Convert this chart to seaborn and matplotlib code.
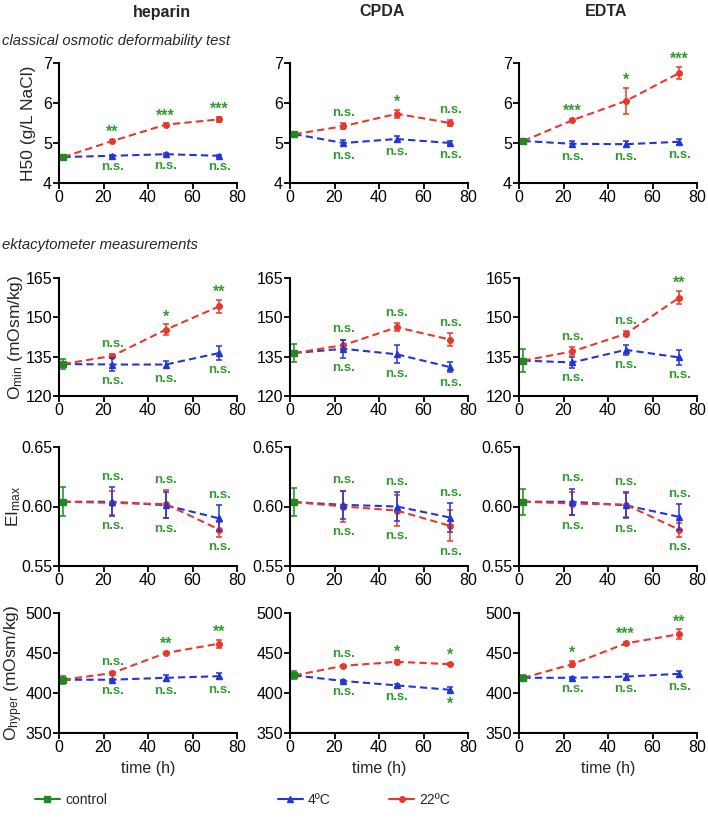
import numpy as np
import pandas as pd
import matplotlib
matplotlib.use('Agg')
import matplotlib.pyplot as plt
from matplotlib.lines import Line2D
import seaborn as sns

# tempos de medida
t_ctrl = 2
times = [24, 48, 72]
anticoagulants = ['heparin', 'CPDA', 'EDTA']

# H50 (g/L NaCl) - heparin, CPDA, EDTA
h50_ctrl = [4.65, 5.22, 5.05]
h50_ctrl_err = [0.03, 0.04, 0.03]
h50_cold = [[4.68, 4.72, 4.68], [5.00, 5.10, 5.00], [4.98, 4.97, 5.03]]
h50_cold_err = [[0.03, 0.03, 0.03], [0.08, 0.07, 0.05], [0.07, 0.07, 0.07]]
h50_warm = [[5.05, 5.46, 5.59], [5.42, 5.73, 5.50], [5.57, 6.05, 6.75]]
h50_warm_err = [[0.03, 0.03, 0.07], [0.08, 0.10, 0.08], [0.03, 0.33, 0.16]]
h50_cold_sig = [['n.s.', 'n.s.', 'n.s.'], ['n.s.', 'n.s.', 'n.s.'], ['n.s.', 'n.s.', 'n.s.']]
h50_warm_sig = [['**', '***', '***'], ['n.s.', '*', 'n.s.'], ['***', '*', '***']]

# Omin (mOsm/kg)
omin_ctrl = [132.2, 136.4, 133.5]
omin_ctrl_err = [2.0, 3.5, 4.5]
omin_cold = [[132.0, 132.0, 136.4], [138.0, 135.9, 131.0], [132.8, 137.6, 134.7]]
omin_cold_err = [[2.5, 1.5, 2.5], [3.5, 3.5, 2.0], [2.0, 2.0, 3.0]]
omin_warm = [[135.3, 145.3, 154.2], [139.4, 146.2, 141.5], [137.0, 143.7, 157.5]]
omin_warm_err = [[0.8, 2.0, 2.5], [2.0, 1.5, 2.5], [1.5, 1.0, 2.5]]
omin_cold_sig = [['n.s.', 'n.s.', 'n.s.'], ['n.s.', 'n.s.', 'n.s.'], ['n.s.', 'n.s.', 'n.s.']]
omin_warm_sig = [['n.s.', '*', '**'], ['n.s.', 'n.s.', 'n.s.'], ['n.s.', 'n.s.', '**']]

# EImax
eimax_ctrl = [0.604, 0.6037, 0.604]
eimax_ctrl_err = [0.012, 0.012, 0.011]
eimax_cold = [[0.604, 0.601, 0.590], [0.6014, 0.600, 0.5907], [0.604, 0.601, 0.5913]]
eimax_cold_err = [[0.012, 0.011, 0.011], [0.012, 0.012, 0.0125], [0.011, 0.011, 0.011]]
eimax_warm = [[0.603, 0.602, 0.5806], [0.600, 0.5966, 0.5837], [0.6025, 0.6015, 0.5805]]
eimax_warm_err = [[0.010, 0.012, 0.006], [0.013, 0.013, 0.013], [0.010, 0.010, 0.006]]
eimax_cold_sig = [['n.s.', 'n.s.', 'n.s.'], ['n.s.', 'n.s.', 'n.s.'], ['n.s.', 'n.s.', 'n.s.']]
eimax_warm_sig = [['n.s.', 'n.s.', 'n.s.'], ['n.s.', 'n.s.', 'n.s.'], ['n.s.', 'n.s.', 'n.s.']]

# Ohyper (mOsm/kg)
ohyp_ctrl = [416.6, 422.0, 419.0]
ohyp_ctrl_err = [5.0, 5.0, 4.0]
ohyp_cold = [[416.6, 419.0, 421.0], [415.0, 409.5, 404.0], [419.0, 420.5, 424.0]]
ohyp_cold_err = [[1.5, 4.0, 4.0], [1.5, 1.5, 3.0], [1.5, 3.0, 4.0]]
ohyp_warm = [[425.0, 450.0, 461.7], [434.0, 439.0, 436.0], [436.0, 462.0, 473.5]]
ohyp_warm_err = [[1.5, 1.5, 5.0], [1.5, 2.0, 1.5], [4.0, 2.0, 6.0]]
ohyp_cold_sig = [['n.s.', 'n.s.', 'n.s.'], ['n.s.', 'n.s.', '*'], ['n.s.', 'n.s.', 'n.s.']]
ohyp_warm_sig = [['n.s.', '**', '**'], ['n.s.', '*', '*'], ['*', '***', '**']]

# Configuração de cada linha de gráficos
linhas = [
    dict(ctrl=h50_ctrl, ctrl_err=h50_ctrl_err, cold=h50_cold, cold_err=h50_cold_err,
         warm=h50_warm, warm_err=h50_warm_err, cold_sig=h50_cold_sig, warm_sig=h50_warm_sig,
         ylabel='H50 (g/L NaCl)', yticks=[4, 5, 6, 7], fmt='%d', lx=-0.13),
    dict(ctrl=omin_ctrl, ctrl_err=omin_ctrl_err, cold=omin_cold, cold_err=omin_cold_err,
         warm=omin_warm, warm_err=omin_warm_err, cold_sig=omin_cold_sig, warm_sig=omin_warm_sig,
         ylabel=r'O$_{\mathrm{min}}$ (mOsm/kg)', yticks=[120, 135, 150, 165], fmt='%d', lx=-0.19),
    dict(ctrl=eimax_ctrl, ctrl_err=eimax_ctrl_err, cold=eimax_cold, cold_err=eimax_cold_err,
         warm=eimax_warm, warm_err=eimax_warm_err, cold_sig=eimax_cold_sig, warm_sig=eimax_warm_sig,
         ylabel=r'EI$_{\mathrm{max}}$', yticks=[0.55, 0.60, 0.65], fmt='%.2f', lx=-0.20),
    dict(ctrl=ohyp_ctrl, ctrl_err=ohyp_ctrl_err, cold=ohyp_cold, cold_err=ohyp_cold_err,
         warm=ohyp_warm, warm_err=ohyp_warm_err, cold_sig=ohyp_cold_sig, warm_sig=ohyp_warm_sig,
         ylabel=r'O$_{\mathrm{hyper}}$ (mOsm/kg)', yticks=[350, 400, 450, 500], fmt='%d', lx=-0.19),
]

# Estilo
sns.set_style('ticks')
plt.rcParams['font.family'] = ['Liberation Sans', 'DejaVu Sans']
plt.rcParams['mathtext.fontset'] = 'custom'
plt.rcParams['mathtext.rm'] = 'Liberation Sans'
plt.rcParams['mathtext.it'] = 'Liberation Sans:italic'

cor_ctrl = '#1f8a1f'
cor_cold = '#2236d6'
cor_warm = '#e8382c'
cor_sig = '#2f9a2f'

W, H = 708, 818
fig = plt.figure(figsize=(W / 100, H / 100), dpi=100)

lefts = [59, 290, 519]
largura = 178
tops = [63, 278, 447, 613]
bottoms = [183, 396, 566, 733]

for r, cfg in enumerate(linhas):
    for c in range(3):
        ax = fig.add_axes([lefts[c] / W, 1 - bottoms[r] / H, largura / W, (bottoms[r] - tops[r]) / H])

        # tabela com as duas séries (cada uma começando no controle)
        tab = pd.DataFrame({
            'time': [t_ctrl] + times + [t_ctrl] + times,
            'value': [cfg['ctrl'][c]] + cfg['cold'][c] + [cfg['ctrl'][c]] + cfg['warm'][c],
            'grupo': ['4ºC'] * 4 + ['22ºC'] * 4,
        })
        sns.lineplot(data=tab, x='time', y='value', hue='grupo', style='grupo',
                     palette={'4ºC': cor_cold, '22ºC': cor_warm},
                     dashes={'4ºC': (3.5, 2), '22ºC': (3.5, 2)},
                     estimator=None, sort=False, legend=False, lw=1.5, ax=ax)

        ax.errorbar(times, cfg['warm'][c], yerr=cfg['warm_err'][c], fmt='o', color=cor_warm,
                    ms=4, capsize=2.5, elinewidth=1.1, capthick=1.1, zorder=4)
        ax.errorbar(times, cfg['cold'][c], yerr=cfg['cold_err'][c], fmt='^', color=cor_cold,
                    ms=4, capsize=2.5, elinewidth=1.1, capthick=1.1, zorder=5)
        ax.errorbar([t_ctrl], [cfg['ctrl'][c]], yerr=[cfg['ctrl_err'][c]], fmt='s', color=cor_ctrl,
                    ms=4, capsize=2.5, elinewidth=1.1, capthick=1.1, zorder=6)

        # rótulos de significância
        for i, t in enumerate(times):
            topo = max(cfg['warm'][c][i] + cfg['warm_err'][c][i], cfg['cold'][c][i] + cfg['cold_err'][c][i])
            base = min(cfg['warm'][c][i] - cfg['warm_err'][c][i], cfg['cold'][c][i] - cfg['cold_err'][c][i])
            ws = cfg['warm_sig'][c][i]
            cs = cfg['cold_sig'][c][i]
            ax.annotate(ws, (t, topo), xytext=(0, 3 if ws == 'n.s.' else 0), textcoords='offset points',
                        ha='center', va='bottom', color=cor_sig,
                        fontsize=9.5 if ws == 'n.s.' else 11.5, fontweight='bold')
            ax.annotate(cs, (t, base), xytext=(0, -3), textcoords='offset points',
                        ha='center', va='top', color=cor_sig,
                        fontsize=9.5 if cs == 'n.s.' else 11.5, fontweight='bold')

        ax.set_xlim(0, 80)
        ax.set_xticks([0, 20, 40, 60, 80])
        ax.set_ylim(cfg['yticks'][0], cfg['yticks'][-1])
        ax.set_yticks(cfg['yticks'])
        ax.yaxis.set_major_formatter(matplotlib.ticker.FormatStrFormatter(cfg['fmt']))
        ax.tick_params(labelsize=11.5, length=4, width=1.3, pad=1, colors='black')
        sns.despine(ax=ax)
        for s in ['left', 'bottom']:
            ax.spines[s].set_linewidth(1.5)
            ax.spines[s].set_color('black')
        ax.set_xlabel('time (h)' if r == 3 else '', fontsize=11.5)
        if c == 0:
            ax.set_ylabel(cfg['ylabel'], fontsize=12.5)
            ax.yaxis.set_label_coords(cfg['lx'], 0.5)
        else:
            ax.set_ylabel('')

# títulos das colunas e das seções
fig.text(162 / W, 1 - 12 / H, 'heparin', ha='center', va='center', fontsize=11.5, fontweight='bold')
fig.text(382 / W, 1 - 12 / H, 'CPDA', ha='center', va='center', fontsize=11.5, fontweight='bold')
fig.text(606 / W, 1 - 12 / H, 'EDTA', ha='center', va='center', fontsize=11.5, fontweight='bold')
fig.text(2 / W, 1 - 41 / H, 'classical osmotic deformability test', ha='left', va='center',
         fontsize=10.7, style='italic')
fig.text(2 / W, 1 - 245 / H, 'ektacytometer measurements', ha='left', va='center',
         fontsize=10.7, style='italic')

# legenda
h_ctrl = Line2D([], [], color=cor_ctrl, marker='s', ms=4, lw=1.5, ls='-')
h_cold = Line2D([], [], color=cor_cold, marker='^', ms=4, lw=1.5, ls='-')
h_warm = Line2D([], [], color=cor_warm, marker='o', ms=4, lw=1.5, ls='-')
fig.legend([h_ctrl], ['control'], loc='center left', bbox_to_anchor=(22 / W, 1 - 800 / H),
           frameon=False, fontsize=10, handlelength=1.8, handletextpad=0.4)
fig.legend([h_cold, h_warm], ['4ºC', '22ºC'], loc='center left', bbox_to_anchor=(265 / W, 1 - 800 / H),
           frameon=False, fontsize=10, ncol=2, handlelength=1.8, handletextpad=0.4, columnspacing=4.2)

fig.savefig('out.png', dpi=100)
